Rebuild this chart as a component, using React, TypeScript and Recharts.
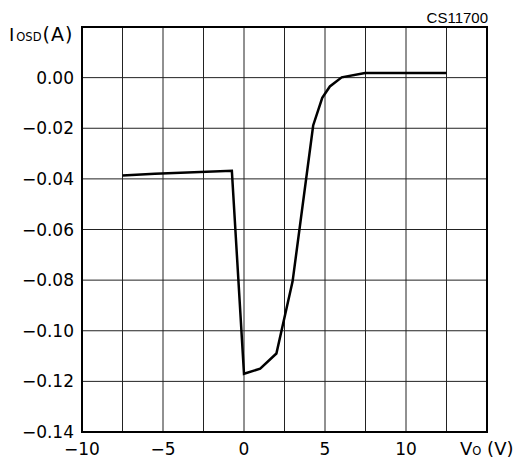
import React from 'react';
import { LineChart, Line, XAxis, YAxis, CartesianGrid, ReferenceArea } from 'recharts';

// output voltage Vo (V)
const voltage = [-7.5, -5.5, -0.75, 0, 1, 2, 3, 4.27, 4.83, 5.3, 6.03, 7.47, 12.5];
// output short-circuit current Iosd (A)
const current = [-0.0387, -0.038, -0.0368, -0.117, -0.115, -0.109, -0.0805, -0.0189, -0.008, -0.0035, 0.0001, 0.0018, 0.0018];

const xTicks = [-10, -7.5, -5, -2.5, 0, 2.5, 5, 7.5, 10, 12.5, 15];
const xLabels = [-10, -5, 0, 5, 10];
const yTicks = [-0.14, -0.12, -0.1, -0.08, -0.06, -0.04, -0.02, 0, 0.02];

const data = voltage.map((v, i) => ({ v, i: current[i] }));

const FONT = 'DejaVu Sans';

const fmtX = (v: number) => (xLabels.includes(v) ? String(v).replace('-', '\u2212') : '');
const fmtY = (v: number) => (Math.abs(v - 0.02) < 1e-9 ? '' : v.toFixed(2).replace('-', '\u2212'));

const App: React.FC = () => {
  return (
    <div style={{ position: 'absolute', left: 0, top: 0, width: 518, height: 459, background: '#fff' }}>
      <LineChart width={518} height={459} data={data} margin={{ top: 27, right: 31, bottom: 0, left: 0 }}>
        <CartesianGrid stroke="#222" strokeWidth={1} />
        <XAxis
          dataKey="v"
          type="number"
          domain={[-10, 15]}
          ticks={xTicks}
          interval={0}
          tickFormatter={fmtX}
          axisLine={false}
          tickLine={false}
          tickSize={0}
          tickMargin={11}
          height={27}
          tick={{ fill: '#000', fontSize: 17, fontFamily: FONT }}
        />
        <YAxis
          type="number"
          domain={[-0.14, 0.02]}
          ticks={yTicks}
          interval={0}
          tickFormatter={fmtY}
          axisLine={false}
          tickLine={false}
          tickSize={0}
          tickMargin={8}
          width={82}
          tick={{ fill: '#000', fontSize: 17, fontFamily: FONT }}
        />
        <ReferenceArea x1={-10} x2={15} y1={-0.14} y2={0.02} fill="none" stroke="#000" strokeWidth={2} />
        <Line
          type="linear"
          dataKey="i"
          stroke="#000"
          strokeWidth={2.5}
          dot={false}
          isAnimationActive={false}
        />
      </LineChart>
      <svg width={518} height={459} style={{ position: 'absolute', left: 0, top: 0, pointerEvents: 'none' }}>
        <text x={9} y={41} fontFamily={FONT} fontSize={18} fill="#000">
          I<tspan fontSize={11.5} dx={2}>OSD</tspan>
          <tspan fontSize={19} dx={1} letterSpacing={1}>(A)</tspan>
        </text>
        <text x={460} y={455} fontFamily={FONT} fontSize={18} fill="#000">
          V<tspan fontSize={11.5}>O</tspan> (V)
        </text>
        <text x={488} y={23} textAnchor="end" fontFamily="Liberation Sans" fontSize={15} fill="#000">
          CS11700
        </text>
      </svg>
    </div>
  );
};

export default App;
